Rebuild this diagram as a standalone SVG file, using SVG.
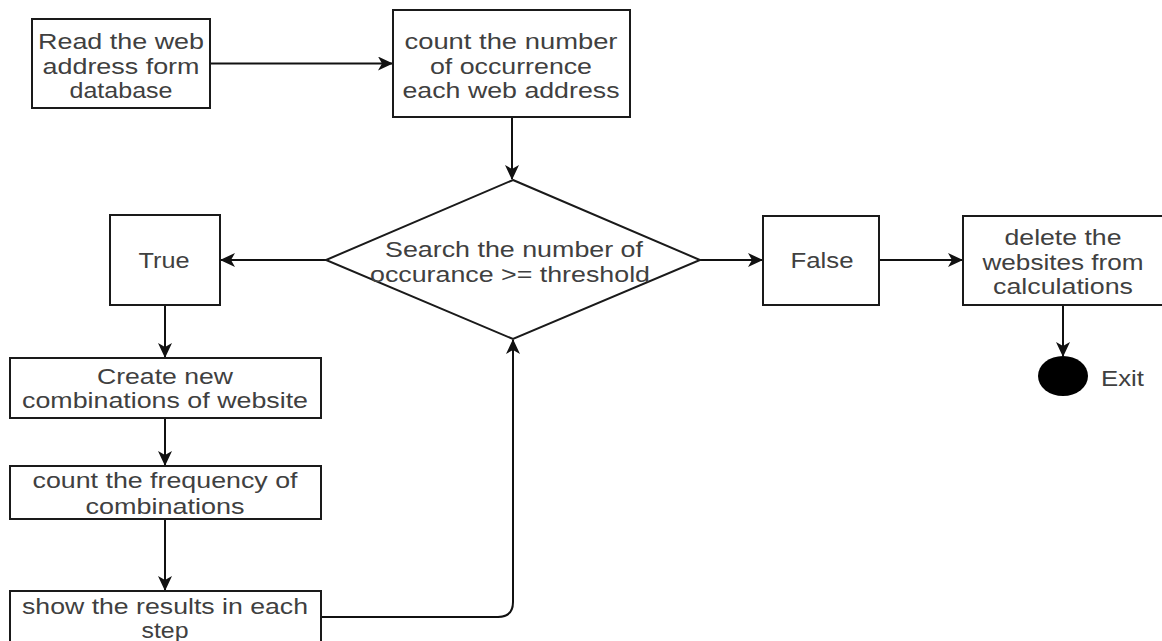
<svg xmlns="http://www.w3.org/2000/svg" width="1162" height="641" viewBox="0 0 1162 641">
  <style>
    .box { fill: #ffffff; stroke: #1a1a1a; stroke-width: 2; }
    .lbl { font-family: "Liberation Sans", Arial, sans-serif; font-size: 22px; fill: #404040; text-anchor: middle; }
    .exit { font-family: "Liberation Sans", Arial, sans-serif; font-size: 22px; fill: #404040; }
    .edge { fill: none; stroke: #111111; stroke-width: 2; marker-end: url(#arrow); }
  </style>
  <defs>
    <marker id="arrow" markerUnits="userSpaceOnUse" markerWidth="15" markerHeight="14" viewBox="0 0 15 14" refX="14" refY="7" orient="auto">
      <path d="M0,0 L15,7 L0,14 L4,7 Z" fill="#111111"/>
    </marker>
  </defs>
  <rect width="1162" height="641" fill="#ffffff"/>

  <!-- connectors -->
  <g id="connectors">
    <path class="edge" d="M210,63.5 L392,63.5"/>
    <path class="edge" d="M512,117 L512,179"/>
    <path class="edge" d="M326,260 L221,260"/>
    <path class="edge" d="M165,305 L165,357"/>
    <path class="edge" d="M165,418 L165,465"/>
    <path class="edge" d="M165,519 L165,590"/>
    <path class="edge" d="M321,617 L498,617 Q513,617 513,602 L513,340"/>
    <path class="edge" d="M700,260 L762,260"/>
    <path class="edge" d="M879,260 L962,260"/>
    <path class="edge" d="M1063,305 L1063,356"/>
  </g>

  <g id="read-address">
    <rect class="box" x="32" y="19" width="178" height="89"/>
    <text class="lbl" x="121" y="49" textLength="166" lengthAdjust="spacingAndGlyphs">Read the web</text>
    <text class="lbl" x="121" y="74" textLength="157" lengthAdjust="spacingAndGlyphs">address form</text>
    <text class="lbl" x="121" y="98" textLength="103" lengthAdjust="spacingAndGlyphs">database</text>
  </g>

  <g id="count-occurrence">
    <rect class="box" x="393" y="10" width="237" height="107"/>
    <text class="lbl" x="511" y="49" textLength="213" lengthAdjust="spacingAndGlyphs">count the number</text>
    <text class="lbl" x="511" y="74" textLength="162" lengthAdjust="spacingAndGlyphs">of occurrence</text>
    <text class="lbl" x="511" y="98" textLength="217" lengthAdjust="spacingAndGlyphs">each web address</text>
  </g>

  <g id="threshold-check">
    <polygon class="box" points="513,180 700,260 513,339 326,260"/>
    <text class="lbl" x="514" y="257" textLength="258" lengthAdjust="spacingAndGlyphs">Search the number of</text>
    <text class="lbl" x="510" y="282" textLength="280" lengthAdjust="spacingAndGlyphs">occurance &gt;= threshold</text>
  </g>

  <g id="true-branch">
    <rect class="box" x="110" y="215" width="110" height="90"/>
    <text class="lbl" x="164" y="268" textLength="51" lengthAdjust="spacingAndGlyphs">True</text>
  </g>

  <g id="create-combinations">
    <rect class="box" x="10" y="358" width="311" height="60"/>
    <text class="lbl" x="165" y="384" textLength="136" lengthAdjust="spacingAndGlyphs">Create new</text>
    <text class="lbl" x="165" y="408" textLength="286" lengthAdjust="spacingAndGlyphs">combinations of website</text>
  </g>

  <g id="count-frequency">
    <rect class="box" x="10" y="466" width="311" height="53"/>
    <text class="lbl" x="165" y="488" textLength="265" lengthAdjust="spacingAndGlyphs">count the frequency of</text>
    <text class="lbl" x="165" y="514" textLength="159" lengthAdjust="spacingAndGlyphs">combinations</text>
  </g>

  <g id="show-results">
    <rect class="box" x="10" y="591" width="311" height="60"/>
    <text class="lbl" x="165" y="614" textLength="286" lengthAdjust="spacingAndGlyphs">show the results in each</text>
    <text class="lbl" x="165" y="638" textLength="47" lengthAdjust="spacingAndGlyphs">step</text>
  </g>

  <g id="false-branch">
    <rect class="box" x="763" y="216" width="116" height="89"/>
    <text class="lbl" x="822" y="268" textLength="63" lengthAdjust="spacingAndGlyphs">False</text>
  </g>

  <g id="delete-websites">
    <rect class="box" x="963" y="216" width="205" height="89"/>
    <text class="lbl" x="1063" y="245" textLength="117" lengthAdjust="spacingAndGlyphs">delete the</text>
    <text class="lbl" x="1063" y="270" textLength="161" lengthAdjust="spacingAndGlyphs">websites from</text>
    <text class="lbl" x="1063" y="294" textLength="140" lengthAdjust="spacingAndGlyphs">calculations</text>
  </g>

  <g id="exit">
    <ellipse cx="1063" cy="376" rx="25" ry="20" fill="#000000"/>
    <text class="exit" x="1101" y="386" textLength="43" lengthAdjust="spacingAndGlyphs">Exit</text>
  </g>
</svg>
